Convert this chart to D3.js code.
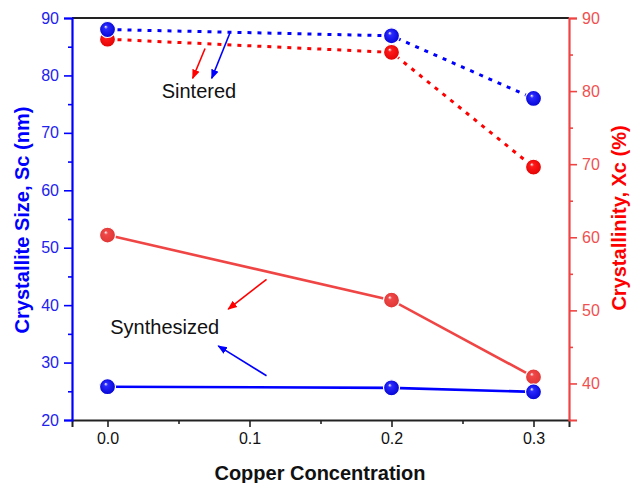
<!DOCTYPE html>
<html>
<head>
<meta charset="utf-8">
<title>Crystallite size and crystallinity</title>
<script src="https://cdn.jsdelivr.net/npm/d3@7"></script>
<style>
  body { margin: 0; background: #fff; }
  svg { font-family: "Liberation Sans", Arial, sans-serif; }
</style>
</head>
<body>
<div id="chart"></div>
<script>
// data
const copper = [0.0, 0.2, 0.3];
const sizeSintered = [88.0, 86.9, 76.0];       // Sc (nm), left axis
const sizeSynthesized = [25.8, 25.6, 24.9];
const crystSintered = [87.1, 85.3, 69.6];      // Xc (%), right axis
const crystSynthesized = [60.3, 51.4, 40.9];
const leftTicks = [20, 30, 40, 50, 60, 70, 80, 90];
const rightTicks = [40, 50, 60, 70, 80, 90];
const xTicks = [0.0, 0.1, 0.2, 0.3];

// labels with arrows, in data units of the x and left axes
const notes = [
  { text: "Sintered", x: 0.0644, y: 76.1 },
  { text: "Synthesized", x: 0.0403, y: 35.0 }
];
const arrows = [
  { from: [0.0687, 84.7], to: [0.0600, 79.5], color: "#ff0000" },
  { from: [0.0862, 87.4], to: [0.0734, 79.5], color: "#0000ff" },
  { from: [0.1120, 44.5], to: [0.0850, 39.3], color: "#ff0000" },
  { from: [0.1120, 27.7], to: [0.0780, 32.9], color: "#0000ff" }
];

const width = 633, height = 483;
const margin = { top: 18, right: 64, bottom: 63, left: 72 };

const svg = d3.select("#chart").append("svg")
  .attr("width", width).attr("height", height);

const x = d3.scaleLinear().domain([-0.025, 0.325]).range([margin.left, width - margin.right]);
const yL = d3.scaleLinear().domain([20, 90]).range([height - margin.bottom, margin.top]);
const yR = d3.scaleLinear().domain([35, 90]).range([height - margin.bottom, margin.top]);

// sphere-looking markers
const defs = svg.append("defs");
function ball(id, c, dark) {
  const g = defs.append("radialGradient").attr("id", id)
    .attr("cx", "50%").attr("cy", "50%").attr("r", "55%")
    .attr("fx", "38%").attr("fy", "32%");
  g.append("stop").attr("offset", "0%").attr("stop-color", "#ffffff");
  g.append("stop").attr("offset", "22%").attr("stop-color", c);
  g.append("stop").attr("offset", "100%").attr("stop-color", dark);
}
ball("gBlue", "#2a2aff", "#0000d0");
ball("gRed", "#ff1a1a", "#e00000");
ball("gRed2", "#f04848", "#dd3333");

function head(id, color) {
  defs.append("marker").attr("id", id).attr("viewBox", "0 0 10 10")
    .attr("refX", 9).attr("refY", 5).attr("markerWidth", 6).attr("markerHeight", 6)
    .attr("orient", "auto")
    .append("path").attr("d", "M0,1 L10,5 L0,9 Z").attr("fill", color);
}
head("ahRed", "#ff0000");
head("ahBlue", "#0000ff");

// axes
const bottom = height - margin.bottom;
svg.append("line").attr("x1", x.range()[0]).attr("x2", x.range()[1])
  .attr("y1", margin.top).attr("y2", margin.top)
  .attr("stroke", "#222").attr("stroke-width", 2);

const xAxis = svg.append("g").attr("transform", `translate(0,${bottom})`)
  .call(d3.axisBottom(x).tickValues(xTicks).tickFormat(d3.format(".1f")).tickSize(7).tickPadding(6));
svg.append("g").attr("transform", `translate(0,${bottom})`)
  .call(d3.axisBottom(x).tickValues([0.05, 0.15, 0.25]).tickFormat("").tickSize(4))
  .call(g => g.select(".domain").remove())
  .selectAll("line").attr("stroke", "#222").attr("stroke-width", 1.6);
xAxis.select(".domain").attr("stroke", "#222").attr("stroke-width", 2);
xAxis.selectAll(".tick line").attr("stroke", "#222").attr("stroke-width", 1.6);
xAxis.selectAll("text").attr("font-size", 16).attr("fill", "#111");

const lAxis = svg.append("g").attr("transform", `translate(${margin.left},0)`)
  .call(d3.axisLeft(yL).tickValues(leftTicks).tickSize(8).tickPadding(5));
svg.append("g").attr("transform", `translate(${margin.left},0)`)
  .call(d3.axisLeft(yL).tickValues(d3.range(25, 90, 10)).tickFormat("").tickSize(4))
  .call(g => g.select(".domain").remove())
  .selectAll("line").attr("stroke", "#0000ff").attr("stroke-width", 1.6);
lAxis.select(".domain").attr("stroke", "#0000ff").attr("stroke-width", 2.2);
lAxis.selectAll(".tick line").attr("stroke", "#0000ff").attr("stroke-width", 1.6);
lAxis.selectAll("text").attr("font-size", 16).attr("fill", "#2222ee");

const rAxis = svg.append("g").attr("transform", `translate(${width - margin.right},0)`)
  .call(d3.axisRight(yR).tickValues(rightTicks).tickSize(8).tickPadding(5));
svg.append("g").attr("transform", `translate(${width - margin.right},0)`)
  .call(d3.axisRight(yR).tickValues(d3.range(45, 90, 10)).tickFormat("").tickSize(4))
  .call(g => g.select(".domain").remove())
  .selectAll("line").attr("stroke", "#ee4444").attr("stroke-width", 1.6);
rAxis.select(".domain").attr("stroke", "#ee4444").attr("stroke-width", 2.2);
rAxis.selectAll(".tick line").attr("stroke", "#ee4444").attr("stroke-width", 1.6);
rAxis.selectAll("text").attr("font-size", 16).attr("fill", "#f05050");

// axis titles
svg.append("text").attr("transform", "translate(29,220) rotate(-90)")
  .attr("text-anchor", "middle").attr("font-size", 20).attr("font-weight", "bold")
  .attr("fill", "#0000ff").text("Crystallite Size, Sc (nm)");
svg.append("text").attr("transform", "translate(626,218) rotate(-90)")
  .attr("text-anchor", "middle").attr("font-size", 20).attr("font-weight", "bold")
  .attr("fill", "#ff0000").text("Crystallinity, Xc (%)");
svg.append("text").attr("x", 320).attr("y", 480)
  .attr("text-anchor", "middle").attr("font-size", 20).attr("font-weight", "bold")
  .attr("fill", "#111").text("Copper Concentration");

// series
const series = [
  { vals: crystSintered, y: yR, color: "#ff0000", dash: "4,6", fill: "url(#gRed)" },
  { vals: sizeSintered, y: yL, color: "#0000ff", dash: "4,6", fill: "url(#gBlue)" },
  { vals: crystSynthesized, y: yR, color: "#f04545", dash: null, fill: "url(#gRed2)" },
  { vals: sizeSynthesized, y: yL, color: "#0000ff", dash: null, fill: "url(#gBlue)" }
];

series.forEach(s => {
  const pts = copper.map((c, i) => [c, s.vals[i]]);
  const line = d3.line().x(d => x(d[0])).y(d => s.y(d[1]));
  svg.append("path").datum(pts)
    .attr("d", line).attr("fill", "none")
    .attr("stroke", s.color).attr("stroke-width", s.dash ? 3 : 2.6)
    .attr("stroke-dasharray", s.dash);
  svg.selectAll(null).data(pts).enter().append("circle")
    .attr("cx", d => x(d[0])).attr("cy", d => s.y(d[1]))
    .attr("r", 8).attr("fill", s.fill)
    .attr("stroke", "#fff").attr("stroke-width", 1.2);
});

// annotations
arrows.forEach(a => {
  svg.append("line")
    .attr("x1", x(a.from[0])).attr("y1", yL(a.from[1]))
    .attr("x2", x(a.to[0])).attr("y2", yL(a.to[1]))
    .attr("stroke", a.color).attr("stroke-width", 1.6)
    .attr("marker-end", a.color === "#ff0000" ? "url(#ahRed)" : "url(#ahBlue)");
});
svg.selectAll(".note").data(notes).enter().append("text")
  .attr("class", "note")
  .attr("x", d => x(d.x)).attr("y", d => yL(d.y))
  .attr("text-anchor", "middle").attr("font-size", 20).attr("fill", "#111")
  .text(d => d.text);
</script>
</body>
</html>
